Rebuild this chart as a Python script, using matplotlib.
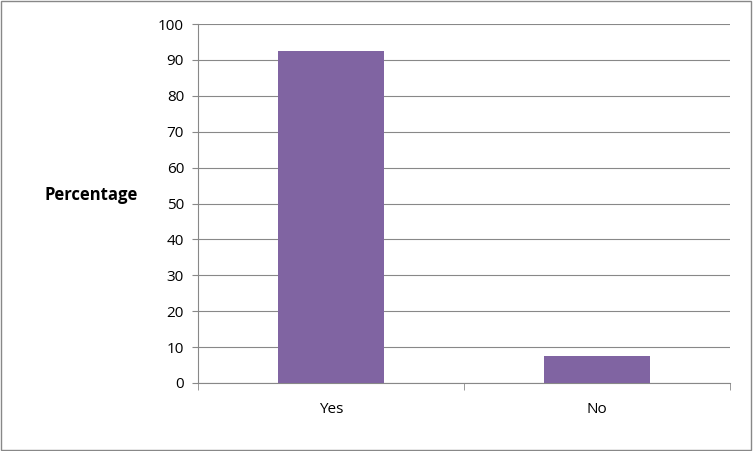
import matplotlib as mpl
import matplotlib.pyplot as plt
from matplotlib.patches import Rectangle

categories = ['Yes', 'No']
values = [92.5, 7.5]

mpl.rcParams['font.family'] = ['Open Sans', 'DejaVu Sans']
fig = plt.figure(figsize=(7.53, 4.51), dpi=100)
ax = fig.add_axes([198/753, 68/451, 532/753, 359/451])
x = range(len(categories))
ax.bar(x, values, width=0.4, color='#8064A2', zorder=3)
ax.set_xlim(-0.5, 1.5)
ax.set_ylim(0, 100)
ax.set_yticks(range(0, 101, 10))
ax.set_xticks(list(x))
ax.set_xticklabels(categories, fontsize=11)
ax.tick_params(axis='y', labelsize=11, length=4, color='#888888', pad=6)
ax.tick_params(axis='x', length=0, pad=14)
ax.set_xticks([-0.5, 0.5, 1.5], minor=True)
ax.tick_params(axis='x', which='minor', length=5, color='#888888')
ax.grid(axis='y', color='#888888', linewidth=0.8, zorder=0)
for s in ['top', 'right']:
    ax.spines[s].set_visible(False)
for s in ['left', 'bottom']:
    ax.spines[s].set_color('#888888')
ax.set_ylabel('Percentage', rotation=0, fontsize=12, fontweight='bold', labelpad=0)
ax.yaxis.set_label_coords(-0.2, 0.5)
fig.patches.append(Rectangle((0.001, 0.002), 0.997, 0.996, transform=fig.transFigure,
                             fill=False, edgecolor='#888888', linewidth=1))
fig.savefig('out.png', dpi=100)
